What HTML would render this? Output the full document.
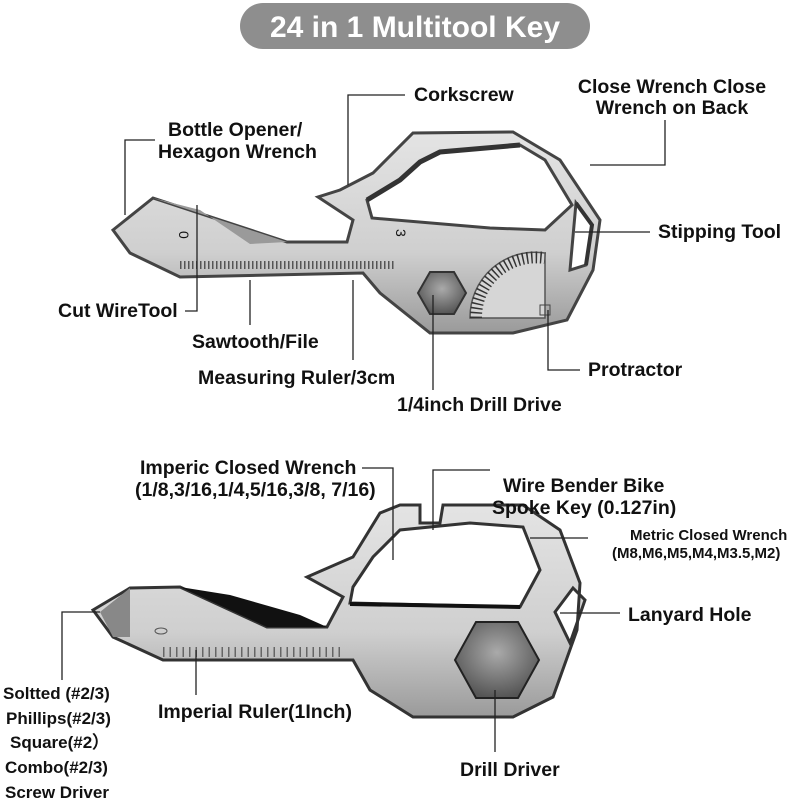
<!DOCTYPE html>
<html><head><meta charset="utf-8"><style>
html,body{margin:0;padding:0;background:#fff;}
svg{display:block}
text{font-family:"Liberation Sans",sans-serif;font-weight:bold;fill:#111}
</style></head><body>
<svg width="800" height="800" viewBox="0 0 800 800" xmlns="http://www.w3.org/2000/svg">
<defs>
<linearGradient id="m" x1="0" y1="0" x2="0" y2="1">
<stop offset="0" stop-color="#e4e4e4"/><stop offset="0.6" stop-color="#cfcfcf"/><stop offset="1" stop-color="#9a9a9a"/>
</linearGradient>
<radialGradient id="h" cx="0.5" cy="0.4" r="0.6">
<stop offset="0" stop-color="#aaa"/><stop offset="1" stop-color="#555"/>
</radialGradient>
</defs>
<rect x="240" y="3" width="350" height="46" rx="23" fill="#8e8e8e"/>
<text x="415" y="37" text-anchor="middle" font-size="30" style="fill:#fff">24 in 1 Multitool Key</text>

<!-- top key -->
<path fill="url(#m)" stroke="#444" stroke-width="3" fill-rule="evenodd" d="
M113,230 L153,198 L287,242 L347,242 L353,220 L318,197 L340,190 L373,173 L413,133 L513,132 L560,160 L600,220 L593,270 L567,320 L513,333 L430,333 L380,293 L363,273 L180,277 L130,253 Z
M367,200 L400,180 L420,162 L440,152 L520,145 L545,160 L572,205 L545,230 L490,228 L372,218 Z
M576,203 L592,225 L586,265 L570,270 Z"/>
<path d="M367,200 L400,180 L420,162 L440,152 L520,145" fill="none" stroke="#333" stroke-width="5"/>
<path d="M576,203 L592,225 L586,265" fill="none" stroke="#333" stroke-width="4"/>
<path d="M153,198 L287,242 L250,244 L200,210 Z" fill="#9a9a9a"/>
<polygon points="418,293 430,272 454,272 466,293 454,314 430,314" fill="url(#h)" stroke="#333" stroke-width="2"/>
<path d="M470,318 A65,65 0 0 1 545,253 L545,318 Z" fill="#d6d6d6" stroke="#555" stroke-width="1.5"/>
<path d="M476,318 A60,60 0 0 1 545,258" fill="none" stroke="#333" stroke-width="12" stroke-dasharray="1.5 3"/>
<rect x="540" y="305" width="10" height="10" fill="none" stroke="#444"/>
<line x1="180" y1="265" x2="395" y2="265" stroke="#555" stroke-width="8" stroke-dasharray="1.5 2.5"/>
<text x="176" y="242" font-size="14" transform="rotate(90 183 238)" style="font-weight:normal">0</text>
<text x="393" y="240" font-size="14" transform="rotate(90 400 236)" style="font-weight:normal">3</text>

<!-- bottom key -->
<path fill="url(#m)" stroke="#333" stroke-width="3" fill-rule="evenodd" d="
M93,610 L130,588 L180,587 L267,627 L327,627 L343,597 L307,577 L353,557 L380,513 L400,505 L420,505 L420,523 L440,523 L443,505 L523,505 L560,530 L580,583 L577,630 L553,697 L513,717 L413,717 L370,690 L353,660 L163,660 L113,637 Z
M350,603 L353,587 L373,557 L400,530 L470,523 L523,527 L540,570 L520,607 Z
M573,588 L585,600 L570,643 L555,612 Z"/>
<path d="M180,587 L267,627 L327,627 L300,615 L230,595 Z" fill="#111"/>
<path d="M130,588 L130,637 L113,637 L100,612 Z" fill="#888"/>
<line x1="350" y1="604" x2="520" y2="607" stroke="#111" stroke-width="4"/>
<polygon points="455,660 476,622 518,622 539,660 518,698 476,698" fill="url(#h)" stroke="#222" stroke-width="2"/>
<line x1="163" y1="652" x2="345" y2="652" stroke="#666" stroke-width="10" stroke-dasharray="1.5 5"/>
<ellipse cx="161" cy="631" rx="6" ry="3" fill="none" stroke="#555"/>

<g stroke="#222" stroke-width="1.3" fill="none">
<path d="M405,95 H348 V185"/>
<path d="M665,120 V165 H590"/>
<path d="M155,140 H125 V215"/>
<path d="M650,232 H575"/>
<path d="M185,311 H197 V205"/>
<path d="M250,280 V325"/>
<path d="M353,280 V360"/>
<path d="M433,295 V390"/>
<path d="M580,370 H548 V310"/>
<path d="M362,468 H393 V560"/>
<path d="M490,470 H433 V530"/>
<path d="M588,538 H530"/>
<path d="M620,613 H560"/>
<path d="M100,612 H62 V680"/>
<path d="M196,650 V695"/>
<path d="M495,690 V752"/>
</g>

<g font-size="19.5">
<text x="414" y="101">Corkscrew</text>
<text x="672" y="93" text-anchor="middle">Close Wrench Close</text>
<text x="672" y="114" text-anchor="middle">Wrench on Back</text>
<text x="168" y="136">Bottle Opener/</text>
<text x="158" y="158">Hexagon Wrench</text>
<text x="658" y="238">Stipping Tool</text>
<text x="58" y="317">Cut WireTool</text>
<text x="192" y="348">Sawtooth/File</text>
<text x="198" y="384">Measuring Ruler/3cm</text>
<text x="397" y="411">1/4inch Drill Drive</text>
<text x="588" y="376">Protractor</text>
<text x="140" y="474">Imperic Closed Wrench</text>
<text x="135" y="496">(1/8,3/16,1/4,5/16,3/8, 7/16)</text>
<text x="503" y="492">Wire Bender Bike</text>
<text x="492" y="514">Spoke Key (0.127in)</text>
<text x="628" y="621">Lanyard Hole</text>
<text x="158" y="718">Imperial Ruler(1Inch)</text>
<text x="460" y="776">Drill Driver</text>
</g>
<g font-size="15">
<text x="630" y="540">Metric Closed Wrench</text>
<text x="612" y="558">(M8,M6,M5,M4,M3.5,M2)</text>
</g>
<g font-size="17">
<text x="3" y="699">Soltted (#2/3)</text>
<text x="6" y="724">Phillips(#2/3)</text>
<text x="10" y="748">Square(#2）</text>
<text x="5" y="773">Combo(#2/3)</text>
<text x="5" y="798">Screw Driver</text>
</g>
</svg>
</body></html>
